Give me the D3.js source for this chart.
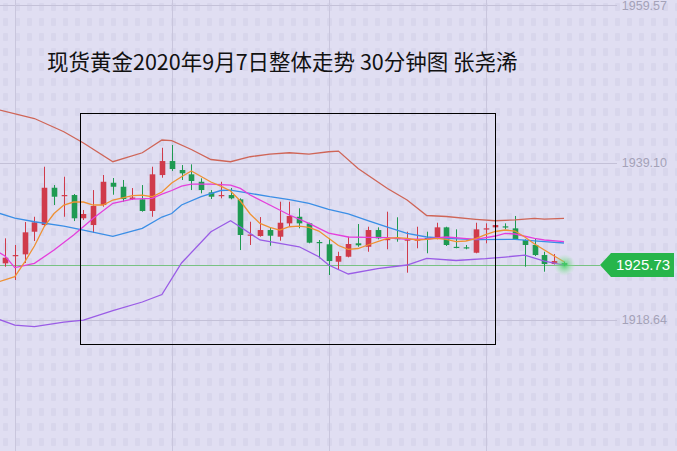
<!DOCTYPE html>
<html>
<head>
<meta charset="utf-8">
<script src="https://cdn.jsdelivr.net/npm/d3@7"></script>
<style>
  html, body { margin: 0; padding: 0; background: #e0def2; }
  svg { display: block; }
</style>
</head>
<body>
<svg id="chart" width="677" height="451"></svg>
<script>
// 30 minute candles, index 0..57
const opens = [1925.96, 1926.95, 1927.13, 1930.08, 1930.95, 1935.81, 1934.73, 1934.86, 1931.83, 1930.95,
  1933.56, 1936.46, 1935.94, 1934.34, 1934.30, 1932.78, 1937.47, 1939.29, 1938.12, 1937.56,
  1936.59, 1935.21, 1934.80, 1934.86, 1934.30, 1929.58, 1929.52, 1930.30, 1929.43, 1931.17,
  1932.03, 1931.17, 1928.74, 1928.44, 1926.17, 1926.82, 1928.57, 1928.12, 1930.30, 1929.00,
  1929.26, 1928.93, 1928.93, 1929.26, 1929.22, 1930.65, 1928.11, 1928.05, 1927.34, 1930.46,
  1930.65, 1930.78, 1930.52, 1929.00, 1928.35, 1927.04, 1925.87, 1926.00];
const highs = [1929.22, 1928.35, 1931.34, 1932.03, 1938.55, 1936.16, 1937.25, 1934.99, 1932.91, 1935.51,
  1937.47, 1937.08, 1936.82, 1935.77, 1936.16, 1938.55, 1941.02, 1941.38, 1938.77, 1938.86,
  1937.04, 1935.51, 1936.59, 1935.77, 1934.43, 1931.38, 1931.99, 1930.60, 1933.99, 1933.99,
  1933.13, 1931.25, 1929.00, 1929.22, 1927.47, 1929.43, 1931.08, 1930.73, 1930.65, 1932.69,
  1931.96, 1930.08, 1930.73, 1930.08, 1931.25, 1930.73, 1930.39, 1928.35, 1931.25, 1931.17,
  1931.02, 1931.17, 1932.13, 1929.09, 1929.22, 1927.47, 1927.17, 1926.20];
const lows = [1925.52, 1923.79, 1926.00, 1928.87, 1930.73, 1933.56, 1932.03, 1931.47, 1931.60, 1929.91,
  1933.34, 1934.90, 1933.99, 1934.21, 1932.69, 1932.03, 1937.12, 1937.99, 1936.82, 1935.51,
  1935.08, 1934.34, 1934.43, 1934.30, 1927.69, 1928.35, 1929.43, 1928.25, 1928.91, 1930.73,
  1930.52, 1928.57, 1926.61, 1924.44, 1925.09, 1926.74, 1928.12, 1927.47, 1929.09, 1927.79,
  1928.78, 1924.74, 1927.92, 1927.27, 1929.09, 1928.22, 1927.92, 1927.79, 1927.27, 1928.57,
  1930.62, 1930.39, 1929.00, 1925.52, 1926.91, 1924.87, 1925.80, 1925.60];
const closes = [1926.69, 1927.04, 1930.00, 1931.30, 1935.81, 1934.64, 1934.86, 1931.83, 1932.39, 1933.43,
  1936.59, 1935.94, 1934.34, 1934.54, 1932.78, 1937.56, 1939.29, 1938.25, 1937.69, 1936.69,
  1935.51, 1934.64, 1934.86, 1934.43, 1929.65, 1929.71, 1930.30, 1929.56, 1931.25, 1932.13,
  1931.17, 1928.65, 1928.61, 1926.26, 1926.91, 1928.48, 1928.31, 1930.30, 1929.22, 1929.13,
  1929.13, 1929.06, 1929.06, 1929.13, 1930.65, 1928.35, 1927.98, 1927.96, 1930.39, 1930.52,
  1930.95, 1930.69, 1929.09, 1928.35, 1927.04, 1925.87, 1926.26, 1925.73];

// indicator lines read at candle indexes
const upperIdx = [-1, 3, 6, 8, 11, 14, 16, 17, 19, 21, 23, 25, 27, 29, 31, 33, 34, 36, 39, 41, 43, 45, 48, 50, 52, 54, 55, 57];
const upperVal = [1946.09, 1944.83, 1943.11, 1941.64, 1939.20, 1940.37, 1942.03, 1941.94, 1940.79, 1939.49,
  1939.20, 1939.85, 1940.20, 1940.37, 1940.20, 1940.50, 1940.59, 1938.31, 1935.71, 1934.21,
  1932.19, 1932.06, 1931.70, 1931.51, 1931.63, 1931.83, 1931.73, 1931.83];

const lowerIdx = [-1, 1, 3, 6, 8, 11, 14, 16, 18, 21, 23, 24, 26, 28, 30, 32, 33, 35, 38, 41, 43, 46, 49, 51, 53, 54, 55, 57];
const lowerVal = [1918.83, 1917.92, 1917.70, 1918.31, 1918.57, 1919.81, 1920.92, 1921.90, 1926.00, 1930.08,
  1931.51, 1930.69, 1929.00, 1928.57, 1928.12, 1926.82, 1925.74, 1924.57, 1925.28, 1925.74,
  1926.61, 1926.33, 1926.56, 1926.78, 1927.04, 1926.65, 1926.26, 1925.74];

const midIdx = [-1, 1, 3, 6, 8, 11, 14, 16, 17, 18, 20, 22, 23, 25, 27, 29, 31, 33, 35, 37, 39, 41, 43, 45, 48, 52, 55, 57];
const midVal = [1932.65, 1931.86, 1931.38, 1930.82, 1930.30, 1929.48, 1930.52, 1931.99, 1932.45, 1933.56,
  1934.64, 1935.45, 1935.51, 1935.08, 1934.64, 1934.27, 1933.78, 1933.00, 1932.39, 1931.54,
  1930.69, 1929.87, 1929.39, 1929.22, 1929.06, 1929.09, 1928.80, 1928.61];

const ma10Idx = [-1, 0, 1, 3, 5, 7, 9, 11, 13, 15, 16, 17, 18, 19, 21, 23, 24, 25, 27, 29, 31, 33, 35, 37, 39, 41, 43, 45, 48, 50, 51, 52, 54, 55, 57];
const ma10Val = [1927.69, 1926.91, 1925.41, 1925.96, 1927.69, 1929.65, 1931.83, 1933.78, 1934.34, 1934.43,
  1934.99, 1935.45, 1936.03, 1936.29, 1936.29, 1936.16, 1935.73, 1934.86, 1933.56, 1932.26,
  1931.17, 1929.91, 1929.39, 1929.35, 1929.32, 1929.09, 1929.13, 1929.39, 1929.09, 1929.52,
  1929.87, 1929.78, 1929.22, 1929.00, 1928.78];

const ma5Idx = [-1, 1, 2, 3, 4, 5, 6, 7, 8, 9, 10, 11, 13, 14, 15, 16, 17, 18, 19, 21, 22, 23, 24, 25, 26, 27, 28, 29,
  30, 31, 32, 33, 34, 35, 36, 37, 38, 39, 40, 41, 42, 43, 44, 45, 46, 47, 48, 49, 50, 51, 52, 53, 54, 55, 56, 57];
const ma5Val = [1923.40, 1924.22, 1926.13, 1928.22, 1930.76, 1932.45, 1933.56, 1933.95, 1933.95, 1933.56,
  1933.56, 1934.21, 1934.77, 1934.86, 1934.64, 1935.25, 1936.43, 1937.25, 1937.99, 1936.56,
  1936.03, 1935.38, 1934.08, 1932.39, 1931.17, 1930.65, 1930.30, 1930.73, 1930.82, 1930.65,
  1930.17, 1929.22, 1928.28, 1927.79, 1927.89, 1928.35, 1928.78, 1929.22, 1929.30, 1929.22,
  1929.00, 1929.09, 1929.22, 1929.09, 1928.80, 1928.87, 1929.19, 1929.71, 1930.11, 1930.30,
  1930.17, 1929.39, 1928.48, 1927.69, 1926.91, 1926.17];

const priceTicks = [1959.57, 1939.10, 1918.64];
const timeGridIdx = [1, 17, 33, 49];
const lastPrice = 1925.73;
const title = "现货黄金2020年9月7日整体走势 30分钟图 张尧浠";

const width = 677, height = 451;
const svg = d3.select("#chart");

const x = d3.scaleLinear().domain([0, 57]).range([5, 564]);
const y = d3.scaleLinear().domain([1918.64, 1939.10]).range([319.5, 162.5]);

const defs = svg.append("defs");

// faint watermark texture of the original screenshot
const pat = defs.append("pattern")
  .attr("id", "wm").attr("patternUnits", "userSpaceOnUse")
  .attr("width", 12).attr("height", 15);
pat.append("rect").attr("x", 3).attr("y", 3).attr("width", 5).attr("height", 8)
  .attr("rx", 1).attr("fill", "#cfcce4").attr("opacity", 0.45);

svg.append("rect").attr("width", width).attr("height", height).attr("fill", "#e0def2");
svg.append("rect").attr("width", width).attr("height", height).attr("fill", "url(#wm)");

// grid
const gridRight = 617;
svg.append("g")
  .attr("class", "grid gridY")
  .call(d3.axisLeft(y).tickValues(priceTicks).tickSize(-gridRight).tickFormat(""))
  .call(g => g.select(".domain").remove())
  .call(g => g.selectAll("line").attr("stroke", "#c4c1d8").attr("shape-rendering", "crispEdges"));

svg.append("g")
  .attr("class", "grid gridX")
  .attr("transform", "translate(0," + height + ")")
  .call(d3.axisBottom(x).tickValues(timeGridIdx).tickSize(-height).tickFormat(""))
  .call(g => g.select(".domain").remove())
  .call(g => g.selectAll("line").attr("stroke", "#c9c6dd").attr("shape-rendering", "crispEdges"));

// price labels on the right
svg.append("g")
  .attr("transform", "translate(667,0)")
  .call(d3.axisLeft(y).tickValues(priceTicks).tickSize(0).tickPadding(0).tickFormat(d3.format(".2f")))
  .call(g => g.select(".domain").remove())
  .call(g => g.selectAll("text")
    .attr("fill", "#a4a2b8")
    .style("font-family", "'Liberation Sans', Arial, sans-serif")
    .style("font-size", "12.5px"));

// last price line
svg.append("line")
  .attr("x1", 0).attr("x2", 600)
  .attr("y1", y(lastPrice)).attr("y2", y(lastPrice))
  .attr("stroke", "#78c283").attr("stroke-width", 1)
  .attr("shape-rendering", "crispEdges");

// candles
const candles = d3.range(opens.length).map(i => ({
  i, o: opens[i], h: highs[i], l: lows[i], c: closes[i]
}));
const bodyW = 5.6;
const candle = svg.append("g").attr("class", "candles")
  .selectAll("g").data(candles).enter().append("g")
  .attr("fill", d => d.c >= d.o ? "#d03b4b" : "#1f9a52")
  .attr("stroke", d => d.c >= d.o ? "#d03b4b" : "#1f9a52");

candle.append("line")
  .attr("x1", d => Math.round(x(d.i)) + 0.5).attr("x2", d => Math.round(x(d.i)) + 0.5)
  .attr("y1", d => y(d.h)).attr("y2", d => y(d.l))
  .attr("stroke-width", 1);

candle.append("rect")
  .attr("x", d => Math.round(x(d.i)) + 0.5 - bodyW / 2)
  .attr("width", bodyW)
  .attr("y", d => y(Math.max(d.o, d.c)))
  .attr("height", d => Math.max(1.2, Math.abs(y(d.o) - y(d.c))))
  .attr("stroke", "none");

// indicator lines
const line = d3.line()
  .x(d => x(d[0]))
  .y(d => y(d[1]));

const series = [
  { idx: upperIdx, val: upperVal, color: "#cf6557" },
  { idx: lowerIdx, val: lowerVal, color: "#9a5ce6" },
  { idx: midIdx, val: midVal, color: "#3a8ee6" },
  { idx: ma10Idx, val: ma10Val, color: "#e43fdc" },
  { idx: ma5Idx, val: ma5Val, color: "#ef9133" }
];

svg.append("g").attr("class", "lines")
  .selectAll("path").data(series).enter().append("path")
  .attr("d", s => line(s.idx.map((k, j) => [k, s.val[j]])))
  .attr("fill", "none")
  .attr("stroke", s => s.color)
  .attr("stroke-width", 1.3);

// glow on last candle
const grad = defs.append("radialGradient").attr("id", "glow");
grad.append("stop").attr("offset", "0%").attr("stop-color", "#3fd05f").attr("stop-opacity", 0.9);
grad.append("stop").attr("offset", "45%").attr("stop-color", "#6fdc83").attr("stop-opacity", 0.5);
grad.append("stop").attr("offset", "100%").attr("stop-color", "#9ee6a8").attr("stop-opacity", 0);
svg.append("circle")
  .attr("cx", x(57) + 0.5).attr("cy", y(lastPrice))
  .attr("r", 11)
  .attr("fill", "url(#glow)");

// price tag
const ty = y(lastPrice);
svg.append("path")
  .attr("d", `M600,${ty} L611,${ty - 12} L674,${ty - 12} L674,${ty + 12} L611,${ty + 12} Z`)
  .attr("fill", "#27b54b");
svg.append("text")
  .attr("x", 643).attr("y", ty)
  .attr("dy", "0.36em")
  .attr("text-anchor", "middle")
  .attr("fill", "#ffffff")
  .style("font-family", "'Liberation Sans', Arial, sans-serif")
  .style("font-size", "15px")
  .text(d3.format(".2f")(lastPrice));

// highlight box
svg.append("rect")
  .attr("x", 80.5).attr("y", 113.5)
  .attr("width", 415).attr("height", 231)
  .attr("fill", "none")
  .attr("stroke", "#000")
  .attr("stroke-width", 1);

// title
svg.append("text")
  .attr("x", 47).attr("y", 70)
  .attr("fill", "#111")
  .style("font-family", "'Noto Sans CJK SC', sans-serif")
  .style("font-size", "21.5px")
  .text(title);
</script>
</body>
</html>
